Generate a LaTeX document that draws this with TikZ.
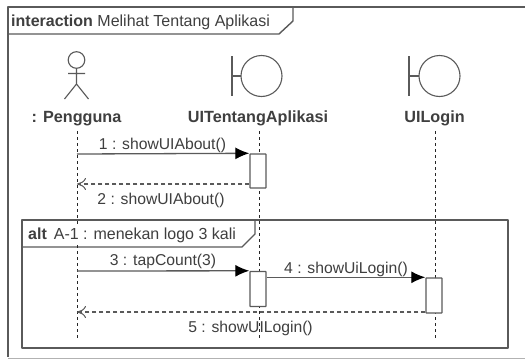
\documentclass[tikz,border=0pt]{standalone}
\usepackage{fontspec}
\setmainfont{Liberation Sans}
\usetikzlibrary{arrows.meta,calc}
\definecolor{ln}{HTML}{5A5A5A}
\definecolor{tx}{HTML}{3F3F3F}
\tikzset{
  x=1pt,y=-1pt,
  every node/.style={text=tx,inner sep=0pt},
  lbl/.style={font=\fontsize{15.7}{18}\selectfont},
  titlelbl/.style={font=\fontsize{16}{18}\selectfont},
  head/.style={font=\fontsize{16.2}{18}\selectfont\bfseries},
  shape line/.style={draw=ln,line width=1.1pt},
  frame line/.style={draw=ln,line width=1.4pt,line join=round},
  life/.style={draw=black!85,line width=1pt,dash pattern=on 3pt off 3pt},
  msg/.style={draw=ln,line width=1.3pt,-{Latex[length=14pt,width=12pt,black]}},
  ret/.style={draw=ln,line width=1.2pt,dash pattern=on 4pt off 3pt,-{To[length=9pt,width=12pt,line width=1pt]}},
  act/.style={draw=ln,line width=1.4pt,fill=white,minimum width=16pt,rounded corners=0.5pt},
}
\begin{document}
\begin{tikzpicture}
\useasboundingbox (0,0) rectangle (525,359);
\fill[white] (0,0) rectangle (525,359);
% outer frame
\draw[frame line] (525,7) -- (8,7) -- (8,357);
\draw[draw=black!30,line width=1pt] (8,358) -- (525,358);
\draw[frame line] (8,34) -- (279,34) -- (293,21) -- (293,7);
\node[titlelbl,anchor=base west] (frametitle) at (11,26) {\textbf{interaction} Melihat Tentang Aplikasi};
% actor
\draw[shape line] (76.5,60) circle (8.3);
\draw[shape line] (76.5,68.3) -- (76.5,84) (68,73.5) -- (85,73.5) (64.5,99) -- (76.5,84) -- (88.5,99);
\node[head,anchor=base] (pengguna) at (76.5,122) {: Pengguna};
% boundaries
\draw[shape line] (232,56) -- (232,96) (232,76) -- (241,76);
\draw[shape line] (261.5,76) circle (20.5);
\node[head,anchor=base] (uitentang) at (258,122) {UITentangAplikasi};
\draw[shape line] (409,56) -- (409,96) (409,76) -- (419,76);
\draw[shape line] (439.5,76) circle (20.5);
\node[head,anchor=base] (uilogin) at (434.5,122) {UILogin};
% alt frame
\draw[frame line] (22,220) rectangle (508,348);
\draw[frame line] (22,247) -- (242,247) -- (255,234) -- (255,220);
% label crossed by a lifeline
\node[lbl,anchor=base] (l5) at (250.5,332) {5 : showUILogin()};
% lifelines
\coordinate (ps) at (77,131);
\coordinate (ts) at (259,131);
\coordinate (ls) at (435,131);
\coordinate (pe) at (77,338);
\coordinate (te) at (259,338);
\coordinate (le) at (435,338);
\draw[life] (ps) -- (pe);
\draw[life] (ts) -- (te);
\draw[life] (ls) -- (le);
\fill[white] (30,225) rectangle (240,245);
\node[titlelbl,anchor=base west] (altlabel) at (28,239) {\textbf{alt}\hspace{7pt}A-1 : menekan logo 3 kali};
% activations
\node[act,minimum height=34pt] (a1) at (258,171) {};
\node[act,minimum height=35pt] (a2) at (258,289) {};
\node[act,minimum height=35pt] (a3) at (434,295.5) {};
% messages
\coordinate (m1s) at (77,154);
\coordinate (m2e) at (77,184);
\coordinate (m3s) at (77,271);
\coordinate (m5e) at (77,312);
\draw[msg] (m1s) -- (a1.north west);
\draw[ret] (a1.west |- m2e) -- (m2e);
\draw[msg] (m3s) -- (a2.north west);
\draw[msg] (a2.east |- a3.north) -- (a3.north west);
\draw[ret] (a3.west |- m5e) -- (m5e);
\node[lbl,anchor=base] (l1) at (162.5,149) {1 : showUIAbout()};
\node[lbl,anchor=base] (l2) at (161,204) {2 : showUIAbout()};
\node[lbl,anchor=base] (l3) at (163,265) {3 : tapCount(3)};
\node[lbl,anchor=base] (l4) at (346,273) {4 : showUiLogin()};
\end{tikzpicture}
\end{document}
